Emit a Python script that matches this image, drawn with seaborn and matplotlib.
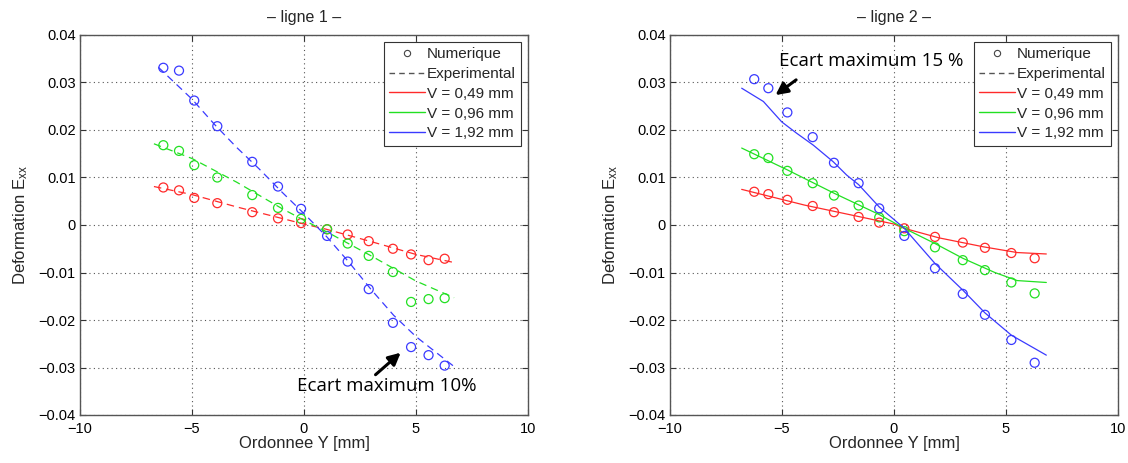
import numpy as np
import pandas as pd
import matplotlib
matplotlib.use("Agg")
import matplotlib.pyplot as plt
from matplotlib.lines import Line2D
import seaborn as sns

# ---------------- data ----------------
series_labels = ["V = 0,49 mm", "V = 0,96 mm", "V = 1,92 mm"]
series_colors = ["#ff2a2a", "#22e022", "#3a3aff"]

# ligne 1 : numerical points
l1_x = [-6.28, -5.58, -4.90, -3.87, -2.31, -1.16, -0.13, 1.03, 1.95, 2.89, 3.97, 4.78, 5.56, 6.28]
l1_num_red = [0.0079, 0.0073, 0.0057, 0.0046, 0.0027, 0.0014, 0.0004, -0.0009, -0.0020, -0.0034, -0.0050, -0.0062, -0.0074, -0.0071]
l1_num_green = [0.0168, 0.0156, 0.0126, 0.0100, 0.0063, 0.0036, 0.0013, -0.0009, -0.0039, -0.0065, -0.0099, -0.0162, -0.0156, -0.0154]
l1_num_blue = [0.0331, 0.0325, 0.0262, 0.0208, 0.0133, 0.0081, 0.0034, -0.0023, -0.0077, -0.0135, -0.0206, -0.0257, -0.0274, -0.0296]

# ligne 1 : experimental curves (dashed)
l1_exp_x_red = [-6.7, -5.0, -3.0, -1.0, 0.0, 1.0, 3.0, 5.0, 6.7]
l1_exp_red = [0.0081, 0.0064, 0.0038, 0.0014, 0.0002, -0.0009, -0.0035, -0.0062, -0.0079]
l1_exp_x_green = [-6.7, -5.0, -3.0, -1.0, 0.0, 1.0, 3.0, 5.0, 6.7]
l1_exp_green = [0.0171, 0.0140, 0.0090, 0.0035, 0.0010, -0.0014, -0.0065, -0.0118, -0.0153]
l1_exp_x_blue = [-6.5, -5.0, -4.0, -3.0, -2.0, -1.0, 0.0, 1.0, 2.0, 3.0, 4.0, 5.0, 6.7]
l1_exp_blue = [0.0332, 0.0265, 0.0212, 0.0163, 0.0118, 0.0070, 0.0024, -0.0024, -0.0078, -0.0136, -0.0190, -0.0235, -0.0298]

# ligne 2 : numerical points
l2_x = [-6.24, -5.61, -4.76, -3.63, -2.68, -1.58, -0.66, 0.46, 1.83, 3.07, 4.06, 5.24, 6.28]
l2_num_red = [0.0070, 0.0065, 0.0053, 0.0040, 0.0027, 0.0017, 0.0005, -0.0007, -0.0025, -0.0037, -0.0048, -0.0059, -0.0070]
l2_num_green = [0.0149, 0.0141, 0.0114, 0.0088, 0.0062, 0.0041, 0.0016, -0.0013, -0.0047, -0.0074, -0.0095, -0.0121, -0.0144]
l2_num_blue = [0.0307, 0.0288, 0.0237, 0.0185, 0.0131, 0.0088, 0.0035, -0.0023, -0.0091, -0.0145, -0.0189, -0.0242, -0.0290]

# ligne 2 : simulated curves (solid)
l2_sim_x_red = [-6.8, -4.0, -2.0, 0.0, 0.46, 2.0, 4.0, 5.5, 6.8]
l2_sim_red = [0.0075, 0.0042, 0.0022, 0.0002, -0.0007, -0.0027, -0.0046, -0.0058, -0.0061]
l2_sim_x_green = [-6.8, -4.76, -2.68, -0.66, 0.46, 1.83, 3.07, 4.5, 5.5, 6.8]
l2_sim_green = [0.0162, 0.0116, 0.0067, 0.0022, -0.0007, -0.0039, -0.0070, -0.0100, -0.0117, -0.0121]
l2_sim_x_blue = [-6.8, -5.83, -5.01, -4.34, -3.60, -2.71, -2.11, -1.58, -0.66, 0.46, 1.83, 3.07, 4.06, 5.24, 6.8]
l2_sim_blue = [0.0288, 0.0260, 0.0217, 0.0193, 0.0168, 0.0133, 0.0105, 0.0085, 0.0038, -0.0007, -0.0081, -0.0137, -0.0185, -0.0232, -0.0274]

titles = ["\u2013 ligne 1 \u2013", "\u2013 ligne 2 \u2013"]
xlabel = "Ordonnee Y [mm]"
ylabel = r"Deformation E$_{\mathregular{xx}}$"
legend_labels = ["Numerique", "Experimental"] + series_labels
xticks = [-10, -5, 0, 5, 10]
yticks = [-0.04, -0.03, -0.02, -0.01, 0, 0.01, 0.02, 0.03, 0.04]
ytick_labels = ["\u22120.04", "\u22120.03", "\u22120.02", "\u22120.01", "0", "0.01", "0.02", "0.03", "0.04"]
xtick_labels = ["\u221210", "\u22125", "0", "5", "10"]
annot_texts = ["Ecart maximum 10%", "Ecart maximum 15 %"]

# ---------------- style ----------------
sns.set_theme(style="white")
plt.rcParams["font.family"] = ["Liberation Sans", "DejaVu Sans"]
plt.rcParams["mathtext.fontset"] = "custom"
plt.rcParams["mathtext.rm"] = "Liberation Sans"
plt.rcParams["mathtext.it"] = "Liberation Sans"

fig = plt.figure(figsize=(11.28, 4.63), dpi=100)
ax1 = fig.add_axes([80 / 1128, 48 / 463, 448 / 1128, 380 / 463])
ax2 = fig.add_axes([670 / 1128, 48 / 463, 448 / 1128, 380 / 463])


def style_axes(ax, title):
    ax.set_xlim(-10, 10)
    ax.set_ylim(-0.04, 0.04)
    ax.set_xticks(xticks)
    ax.set_xticklabels(xtick_labels)
    ax.set_yticks(yticks)
    ax.set_yticklabels(ytick_labels)
    ax.tick_params(direction="in", length=4, width=0.8, colors="#333333",
                   labelcolor="black", labelsize=10.5, top=True, right=True,
                   bottom=True, left=True, pad=3)
    ax.tick_params(axis="x", pad=5)
    ax.grid(True, linestyle=(0, (1, 3)), color="#555555", linewidth=0.8)
    for s in ax.spines.values():
        s.set_color("#555555")
        s.set_linewidth(1.0)
    ax.set_title(title, fontsize=11.5, pad=9)
    ax.set_xlabel(xlabel, fontsize=12, labelpad=0)
    ax.set_ylabel(ylabel, fontsize=12, labelpad=6)
    handles = [
        Line2D([], [], linestyle="none", marker="o", markersize=4.5,
               markerfacecolor="none", markeredgecolor="#444444", markeredgewidth=0.8),
        Line2D([], [], linestyle=(0, (4, 3)), color="#555555", linewidth=1.0),
    ] + [Line2D([], [], color=c, linewidth=1.0) for c in series_colors]
    leg = ax.legend(handles, legend_labels, loc="upper right", fontsize=11,
                    frameon=True, fancybox=False, framealpha=1, edgecolor="#333333",
                    borderaxespad=0.45, handlelength=2.3, handletextpad=0.15,
                    labelspacing=0.38, borderpad=0.35)
    leg.get_frame().set_linewidth(0.8)


# ligne 1
for xs, ys, c in zip([l1_exp_x_red, l1_exp_x_green, l1_exp_x_blue],
                     [l1_exp_red, l1_exp_green, l1_exp_blue], series_colors):
    sns.lineplot(x=xs, y=ys, ax=ax1, color=c, linewidth=0.9, sort=False,
                 estimator=None)
    ax1.lines[-1].set_linestyle((0, (6, 4)))
for ys, c in zip([l1_num_red, l1_num_green, l1_num_blue], series_colors):
    sns.scatterplot(x=l1_x, y=ys, ax=ax1, marker="o", s=42, facecolor="none",
                    edgecolor=c, linewidth=0.9)

# ligne 2
for xs, ys, c in zip([l2_sim_x_red, l2_sim_x_green, l2_sim_x_blue],
                     [l2_sim_red, l2_sim_green, l2_sim_blue], series_colors):
    sns.lineplot(x=xs, y=ys, ax=ax2, color=c, linewidth=0.9, sort=False,
                 estimator=None)
for ys, c in zip([l2_num_red, l2_num_green, l2_num_blue], series_colors):
    sns.scatterplot(x=l2_x, y=ys, ax=ax2, marker="o", s=42, facecolor="none",
                    edgecolor=c, linewidth=0.9)

style_axes(ax1, titles[0])
style_axes(ax2, titles[1])

annot_font = ["Open Sans", "DejaVu Sans"]
ax1.annotate("", xy=(4.41, -0.0265), xytext=(3.1, -0.0319),
             arrowprops=dict(arrowstyle="-|>,head_length=0.6,head_width=0.3",
                             color="black", linewidth=2.2))
ax1.text(3.7, -0.0338, annot_texts[0], ha="center", va="center",
         fontsize=13.5, family=annot_font, color="black")
ax2.annotate("", xy=(-5.39, 0.0270), xytext=(-4.27, 0.0309),
             arrowprops=dict(arrowstyle="-|>,head_length=0.6,head_width=0.3",
                             color="black", linewidth=2.2))
ax2.text(-1.03, 0.0345, annot_texts[1], ha="center", va="center",
         fontsize=13.5, family=annot_font, color="black")

fig.savefig("out.png", dpi=100, facecolor="white")
